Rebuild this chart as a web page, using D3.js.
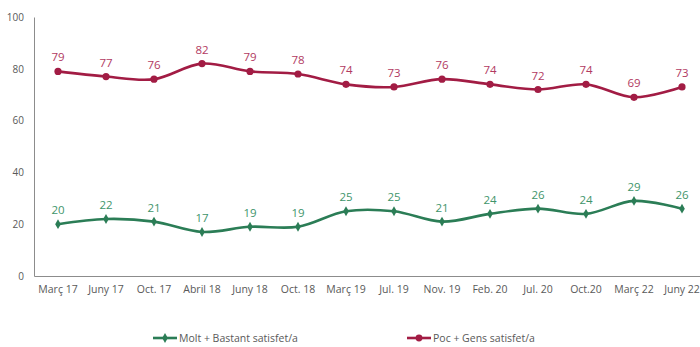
<!DOCTYPE html>
<html>
<head>
<meta charset="utf-8">
<script src="https://cdn.jsdelivr.net/npm/d3@7"></script>
<style>
  html, body { margin: 0; padding: 0; background: #fff; }
  svg { display: block; font-family: "Open Sans", sans-serif; }
</style>
</head>
<body>
<svg id="chart" width="700" height="347"></svg>
<script>
// Survey waves
const categories = ["Març 17","Juny 17","Oct. 17","Abril 18","Juny 18","Oct. 18","Març 19","Jul. 19","Nov. 19","Feb. 20","Jul. 20","Oct.20","Març 22","Juny 22"];
// Share of respondents (%)
const satisfiedValues = [20,22,21,17,19,19,25,25,21,24,26,24,29,26];
const unsatisfiedValues = [79,77,76,82,79,78,74,73,76,74,72,74,69,73];
const yTicks = [0,20,40,60,80,100];
const seriesNames = ["Molt + Bastant satisfet/a", "Poc + Gens satisfet/a"];

const series = [
  { name: seriesNames[0], values: satisfiedValues, line: "#2b7d56", label: "#3f956b", marker: "diamond" },
  { name: seriesNames[1], values: unsatisfiedValues, line: "#a21c44", label: "#b23a62", marker: "circle" }
];

const svg = d3.select("#chart");
const plotLeft = 34, plotTop = 17, plotBottom = 276;

const x = d3.scaleBand().domain(categories).range([plotLeft, plotLeft + 48 * categories.length]);
const y = d3.scaleLinear().domain([0, 100]).range([plotBottom, plotTop]);
const cx = d => x(d) + x.bandwidth() / 2;

// Y axis
const yAxis = svg.append("g").attr("transform", `translate(${plotLeft},0)`)
  .call(d3.axisLeft(y).tickValues(yTicks).tickSize(0).tickPadding(10));
yAxis.select(".domain").attr("stroke", "#8c8c8c").attr("stroke-width", 1);
yAxis.selectAll("text").attr("fill", "#595959").style("font-size", "10px").style("font-family", "Open Sans");

// X axis
const xAxis = svg.append("g").attr("transform", `translate(0,${plotBottom})`)
  .call(d3.axisBottom(x).tickSize(0).tickPadding(10));
xAxis.select(".domain").attr("stroke", "#8c8c8c").attr("stroke-width", 1);
xAxis.selectAll("text").attr("fill", "#595959").style("font-size", "10.5px").style("font-family", "Open Sans");

const line = d3.line()
  .x((d, i) => cx(categories[i]))
  .y(d => y(d))
  .curve(d3.curveCatmullRom.alpha(0.5));

const diamond = d3.symbol().type(d3.symbolDiamond).size(28);

series.forEach(s => {
  const g = svg.append("g");
  g.append("path").datum(s.values)
    .attr("d", line).attr("fill", "none")
    .attr("stroke", s.line).attr("stroke-width", 2.6);

  if (s.marker === "circle") {
    g.selectAll("circle").data(s.values).join("circle")
      .attr("cx", (d, i) => cx(categories[i])).attr("cy", d => y(d))
      .attr("r", 3.6).attr("fill", s.line);
  } else {
    g.selectAll("path.mk").data(s.values).join("path").attr("class", "mk")
      .attr("d", diamond)
      .attr("transform", (d, i) => `translate(${cx(categories[i])},${y(d)})`)
      .attr("fill", s.line);
  }

  g.selectAll("text").data(s.values).join("text")
    .attr("x", (d, i) => cx(categories[i])).attr("y", d => y(d) - 10)
    .attr("text-anchor", "middle")
    .attr("fill", s.label)
    .style("font-size", "11.5px")
    .text(d => d);
});

// Legend
const legendX = [153, 407];
series.forEach((s, i) => {
  const g = svg.append("g").attr("transform", `translate(${legendX[i]},338)`);
  g.append("line").attr("x1", 0).attr("x2", 24).attr("y1", 0).attr("y2", 0)
    .attr("stroke", s.line).attr("stroke-width", 2.6);
  if (s.marker === "circle") {
    g.append("circle").attr("cx", 12).attr("cy", 0).attr("r", 3.4).attr("fill", s.line);
  } else {
    g.append("path").attr("d", diamond).attr("transform", "translate(12,0)").attr("fill", s.line);
  }
  g.append("text").attr("x", 26).attr("y", 0).attr("dy", "0.35em")
    .attr("fill", "#595959").style("font-size", "10.5px").text(s.name);
});
</script>
</body>
</html>
